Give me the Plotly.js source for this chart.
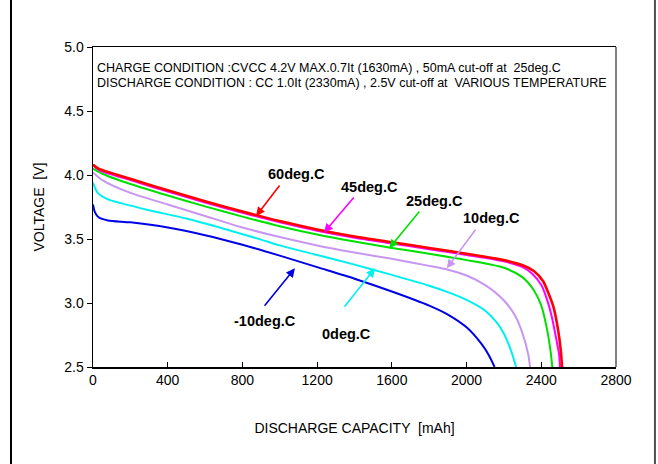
<!DOCTYPE html>
<html>
<head>
<meta charset="utf-8">
<script src="https://cdn.plot.ly/plotly-3.0.1.min.js"></script>
<style>
html,body{margin:0;padding:0;background:#fff;}
#chart{width:658px;height:464px;}
</style>
</head>
<body>
<div id="chart"></div>
<script>
// Discharge capacity (mAh) and voltage (V) for each temperature
const cap60 = [0, 30, 200, 400, 600, 800, 1000, 1200, 1400, 1600, 1800, 2000, 2200, 2300, 2360, 2410, 2440, 2465, 2490, 2505, 2511];
const v60   = [4.08, 4.05, 3.97, 3.88, 3.795, 3.715, 3.64, 3.575, 3.52, 3.475, 3.43, 3.385, 3.335, 3.295, 3.25, 3.17, 3.07, 2.97, 2.79, 2.62, 2.5];

const cap45 = [0, 30, 200, 400, 600, 800, 1000, 1200, 1400, 1600, 1800, 2000, 2200, 2300, 2350, 2400, 2430, 2455, 2480, 2495, 2500];
const v45   = [4.08, 4.04, 3.96, 3.87, 3.785, 3.705, 3.63, 3.565, 3.51, 3.465, 3.42, 3.375, 3.325, 3.28, 3.23, 3.14, 3.03, 2.90, 2.72, 2.60, 2.5];

const cap25 = [0, 50, 200, 400, 600, 800, 1000, 1200, 1400, 1600, 1800, 2000, 2200, 2300, 2360, 2400, 2430, 2450, 2459];
const v25   = [4.05, 4.01, 3.93, 3.84, 3.755, 3.675, 3.60, 3.535, 3.48, 3.43, 3.385, 3.335, 3.275, 3.20, 3.10, 2.98, 2.80, 2.62, 2.5];

const cap10 = [0, 50, 200, 400, 600, 800, 1000, 1200, 1400, 1600, 1800, 1900, 2000, 2100, 2200, 2260, 2300, 2330, 2340];
const v10   = [4.02, 3.96, 3.86, 3.77, 3.68, 3.59, 3.515, 3.45, 3.395, 3.345, 3.29, 3.26, 3.215, 3.14, 3.02, 2.90, 2.76, 2.60, 2.5];

const cap0  = [0, 25, 80, 150, 300, 500, 700, 900, 1000, 1200, 1400, 1600, 1800, 1900, 2000, 2100, 2160, 2200, 2240, 2265];
const v0    = [3.94, 3.86, 3.81, 3.78, 3.725, 3.66, 3.58, 3.495, 3.45, 3.375, 3.30, 3.22, 3.135, 3.085, 3.025, 2.94, 2.85, 2.76, 2.62, 2.5];

const capM10 = [0, 10, 30, 80, 200, 400, 600, 800, 1000, 1200, 1400, 1600, 1800, 1900, 2000, 2080, 2120, 2150];
const vM10   = [3.77, 3.71, 3.67, 3.645, 3.63, 3.59, 3.53, 3.455, 3.37, 3.28, 3.19, 3.09, 2.98, 2.91, 2.81, 2.68, 2.59, 2.5];

const xTicks = [0, 400, 800, 1200, 1600, 2000, 2400, 2800];
const yTicks = [2.5, 3.0, 3.5, 4.0, 4.5, 5.0];
const yTickText = ["2.5", "3.0", "3.5", "4.0", "4.5", "5.0"];

const labels = ["60deg.C", "45deg.C", "25deg.C", "10deg.C", "0deg.C", "-10deg.C"];
const colors = ["#ff0000", "#ff00ff", "#00e000", "#c896f0", "#00f0f0", "#0000e6"];
const widths = [2.6, 2, 2, 2, 2, 2];

const headerLines = [
  "CHARGE CONDITION :CVCC 4.2V MAX.0.7It (1630mA) , 50mA cut-off at  25deg.C",
  "DISCHARGE CONDITION : CC 1.0It (2330mA) , 2.5V cut-off at  VARIOUS TEMPERATURE"
];

// label text positions and arrow geometry (data coords)
const labelPos  = [[1087, 4.008], [1478, 3.906], [1826, 3.797], [2136, 3.664], [1355, 2.758], [921, 2.859]];
const arrowTail = [[1005, 3.93], [1403, 3.836], [1754, 3.727], [2054, 3.584], [1340, 2.959], [912, 2.966]];
const arrowTip  = [[873, 3.68], [1237, 3.55], [1586, 3.427], [1894, 3.271], [1510, 3.271], [1081, 3.271]];

const series = [[cap60, v60], [cap45, v45], [cap25, v25], [cap10, v10], [cap0, v0], [capM10, vM10]];
const order = [5, 4, 3, 2, 1, 0];
const traces = order.map(i => ({
  x: series[i][0], y: series[i][1], type: 'scatter', mode: 'lines',
  line: {color: colors[i], width: widths[i], shape: 'spline', smoothing: 0.7},
  name: labels[i], hoverinfo: 'skip'
}));

const font = "Arial, 'Liberation Sans', sans-serif";
const annotations = [];
headerLines.forEach((t, k) => {
  annotations.push({
    xref: 'paper', yref: 'paper', x: 0.004, y: k === 0 ? 0.934 : 0.886,
    xanchor: 'left', yanchor: 'middle', showarrow: false, text: t,
    font: {family: font, size: 12.5, color: '#000'}
  });
});
labels.forEach((t, i) => {
  annotations.push({
    x: labelPos[i][0], y: labelPos[i][1], xref: 'x', yref: 'y', showarrow: false,
    text: '<b>' + t + '</b>', font: {family: font, size: 14.5, color: '#000'},
    xanchor: 'center', yanchor: 'middle'
  });
  annotations.push({
    x: arrowTip[i][0], y: arrowTip[i][1], xref: 'x', yref: 'y',
    ax: arrowTail[i][0], ay: arrowTail[i][1], axref: 'x', ayref: 'y',
    text: '', showarrow: true, arrowhead: 2, arrowsize: 1.1, arrowwidth: 1.6,
    arrowcolor: colors[i], standoff: 0, startstandoff: 0
  });
});

const layout = {
  width: 658, height: 464,
  margin: {l: 93, r: 42, t: 47, b: 97},
  paper_bgcolor: '#fff', plot_bgcolor: '#fff',
  showlegend: false,
  font: {family: font, color: '#000'},
  xaxis: {
    range: [0, 2800], tickvals: xTicks, ticktext: xTicks.map(String),
    ticks: 'inside', ticklen: 5, tickcolor: '#000', tickwidth: 1,
    showline: true, linecolor: '#000', linewidth: 1.5, mirror: true,
    showgrid: false, zeroline: false,
    tickfont: {family: font, size: 14, color: '#000'},
    title: {text: 'DISCHARGE CAPACITY  [mAh]', font: {family: font, size: 14, color: '#000'}, standoff: 36}
  },
  yaxis: {
    range: [2.5, 5.0], tickvals: yTicks, ticktext: yTickText,
    ticks: 'outside', ticklen: 5, tickcolor: '#000', tickwidth: 1,
    showline: true, linecolor: '#000', linewidth: 1.5,
    showgrid: false, zeroline: false,
    tickfont: {family: font, size: 14, color: '#000'},
    title: {text: 'VOLTAGE  [V]', font: {family: font, size: 14, color: '#000'}, standoff: 16}
  },
  shapes: [
    {type: 'line', xref: 'paper', yref: 'paper', x0: 1, x1: 1, y0: 0, y1: 1,
     line: {color: '#808080', width: 2}},
    {type: 'line', xref: 'paper', yref: 'paper', x0: -0.1568, x1: -0.1568, y0: -0.31, y1: 1.16,
     line: {color: '#000', width: 2}},
    {type: 'line', xref: 'paper', yref: 'paper', x0: 1.0745, x1: 1.0745, y0: -0.31, y1: 1.16,
     line: {color: '#505050', width: 2}}
  ],
  annotations: annotations
};

Plotly.newPlot('chart', traces, layout, {displayModeBar: false, staticPlot: true});
</script>
</body>
</html>
